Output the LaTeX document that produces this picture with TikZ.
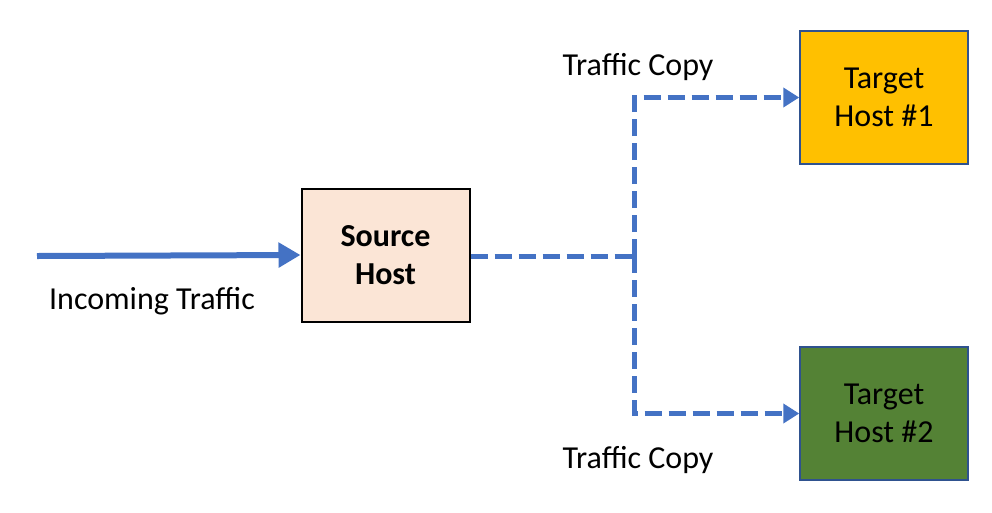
\documentclass[tikz,border=0pt]{standalone}
\usepackage{fontspec}
\setmainfont{Carlito}
\usetikzlibrary{positioning,arrows.meta}
\definecolor{linkblue}{HTML}{4472C4}
\definecolor{peach}{HTML}{FBE5D6}
\definecolor{amber}{HTML}{FFC000}
\definecolor{leaf}{HTML}{548235}
\definecolor{edgeblue}{HTML}{2F528F}
\begin{document}
\begin{tikzpicture}[x=1pt,y=-1pt,
 every node/.style = {align=center, font=\fontsize{32}{38}\selectfont},
 host/.style = {shape=rectangle, minimum width=168pt, minimum height=133pt},
 feed/.style = {draw=linkblue, line width=6pt, -{Triangle[length=22pt,width=24pt]}},
 copyline/.style = {draw=linkblue, line width=5pt, dash pattern=on 17pt off 7pt},
 copyarrow/.style = {copyline, -{Triangle[length=16pt,width=19pt]}}]
 \useasboundingbox (0,0) rectangle (992,512);
 % hosts
 \node [host, draw=black, line width=2pt, fill=peach, font=\fontsize{32}{38}\selectfont\bfseries] (source) at (385.5,255) {Source\\Host};
 \node [host, draw=edgeblue, line width=1.5pt, fill=amber] (target1) at (884,97.5) {Target\\Host \#1};
 \node [host, draw=edgeblue, line width=1.5pt, fill=leaf] (target2) at (884,413.5) {Target\\Host \#2};
 % incoming
 \coordinate (in) at (37,256);
 \draw [feed] (in) -- (source.west);
 \node (inlabel) at (152,301) {Incoming Traffic};
 % copies
 \coordinate (split) at (634,256);
 \draw [copyline] (source.east |- split) -- (split);
 \draw [copyarrow] (split) |- (target1.west);
 \draw [copyarrow] (split) |- (target2.west);
 \node (copy1) at (638,67) {Traffic Copy};
 \node (copy2) at (638,460) {Traffic Copy};
\end{tikzpicture}
\end{document}
